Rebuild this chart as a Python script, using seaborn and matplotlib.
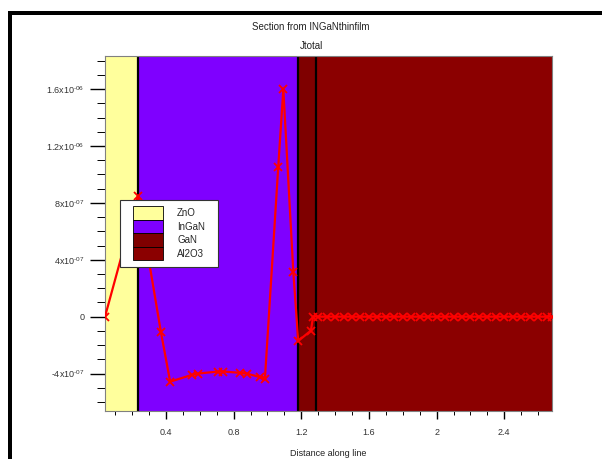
import matplotlib
matplotlib.use("Agg")
import matplotlib.pyplot as plt
import seaborn as sns
import numpy as np
import pandas as pd
from matplotlib.patches import Patch, Rectangle
from matplotlib.ticker import MultipleLocator, FixedLocator, FixedFormatter

# ---------------- data ----------------
layer_names = ["ZnO", "InGaN", "GaN", "Al2O3"]
layer_starts = [0.04, 0.235, 1.18, 1.286]
layer_ends = [0.235, 1.18, 1.286, 2.682]
layer_colors = ["#ffff9c", "#7f00ff", "#7f0000", "#8b0000"]

distance = [0.04, 0.235, 0.37, 0.425, 0.552, 0.59, 0.71, 0.74, 0.838, 0.877,
            0.956, 0.985, 1.064, 1.094, 1.153, 1.182, 1.257, 1.27,
            1.30, 1.35, 1.40, 1.45, 1.50, 1.55, 1.60, 1.65, 1.70, 1.75,
            1.80, 1.85, 1.90, 1.95, 2.00, 2.05, 2.10, 2.15, 2.20, 2.25,
            2.30, 2.35, 2.40, 2.45, 2.50, 2.55, 2.60, 2.65, 2.68]
jtotal = [0.0, 8.5e-7, -1.05e-7, -4.57e-7, -4.1e-7, -4.0e-7, -3.86e-7, -3.86e-7, -3.95e-7, -4.0e-7,
          -4.25e-7, -4.4e-7, 1.054e-6, 1.6e-6, 3.16e-7, -1.71e-7, -0.98e-7, 0.0,
          0.0, 0.0, 0.0, 0.0, 0.0, 0.0, 0.0, 0.0, 0.0, 0.0,
          0.0, 0.0, 0.0, 0.0, 0.0, 0.0, 0.0, 0.0, 0.0, 0.0,
          0.0, 0.0, 0.0, 0.0, 0.0, 0.0, 0.0, 0.0, 0.0]

HY = "\u2010"
ytick_values = [-4e-7, 0.0, 4e-7, 8e-7, 1.2e-6, 1.6e-6]
ytick_labels = ["-" + r"$\mathregular{4x10^{" + HY + r"07}}$", "0",
                r"$\mathregular{4x10^{" + HY + r"07}}$",
                r"$\mathregular{8x10^{" + HY + r"07}}$",
                r"$\mathregular{1.2x10^{" + HY + r"06}}$",
                r"$\mathregular{1.6x10^{" + HY + r"06}}$"]
xtick_values = [0.4, 0.8, 1.2, 1.6, 2.0, 2.4]
xtick_labels = ["0.4", "0.8", "1.2", "1.6", "2", "2.4"]

title_text = "Section from INGaNthinfilm"
subtitle_text = "Jtotal"
xlabel_text = "Distance along line"

# ---------------- style ----------------
sns.set_style("ticks")
plt.rcParams["font.family"] = ["Liberation Sans", "DejaVu Sans"]
plt.rcParams["mathtext.fontset"] = "custom"
plt.rcParams["mathtext.rm"] = "Liberation Sans"
plt.rcParams["mathtext.it"] = "Liberation Sans"
plt.rcParams["axes.unicode_minus"] = False

W, H = 602, 459
fig = plt.figure(figsize=(W / 100, H / 100), dpi=100)
fig.patch.set_facecolor("white")
ax = fig.add_axes([105 / W, 1 - 410.5 / H, (552 - 105) / W, (410.5 - 56.5) / H])

for name, s, e, c in zip(layer_names, layer_starts, layer_ends, layer_colors):
    ax.axvspan(s, e, facecolor=c, edgecolor="none", zorder=0)
for b in layer_starts[1:]:
    ax.axvline(b, color="black", lw=1.6, zorder=1)

df = pd.DataFrame({"distance": distance, "jtotal": jtotal})
sns.lineplot(data=df, x="distance", y="jtotal", ax=ax, color="#ff0000", lw=1.6,
             marker="x", markersize=6, markeredgewidth=1.3, markeredgecolor="#ff0000",
             sort=False, estimator=None, zorder=3)

ax.set_xlim(0.04, 2.682)
ax.set_ylim(-0.66e-6, 1.83e-6)

ax.xaxis.set_major_locator(FixedLocator(xtick_values))
ax.xaxis.set_major_formatter(FixedFormatter(xtick_labels))
ax.xaxis.set_minor_locator(MultipleLocator(0.1))
ax.yaxis.set_major_locator(FixedLocator(ytick_values))
ax.yaxis.set_major_formatter(FixedFormatter(ytick_labels))
ax.yaxis.set_minor_locator(MultipleLocator(1e-7))

ax.tick_params(axis="x", which="major", direction="out", length=5.5, width=1.0, labelsize=6.5, pad=7, color="black")
ax.tick_params(axis="x", which="minor", direction="out", length=3, width=0.7, color="black")
ax.tick_params(axis="y", which="major", direction="out", length=11, width=1.0, labelsize=6.5, pad=4, color="black")
ax.tick_params(axis="y", which="minor", direction="out", length=6, width=0.7, color="black")
for lab in ax.get_xticklabels() + ax.get_yticklabels():
    lab.set_color("#333333")

for sp in ax.spines.values():
    sp.set_visible(True)
    sp.set_color("#808080")
    sp.set_linewidth(0.8)

ax.set_xlabel("")
ax.set_ylabel("")

# legend: frame drawn as a box, entries placed inside
ax_left, ax_bottom, ax_w, ax_h = 105, 410.5, 447, 354
def ax_frac(px, py):
    return ((px - ax_left) / ax_w, (ax_bottom - py) / ax_h)

bx0, by0 = ax_frac(120, 267)
bx1, by1 = ax_frac(218, 200)
ax.add_patch(Rectangle((bx0, by0), bx1 - bx0, by1 - by0, transform=ax.transAxes,
                       facecolor="white", edgecolor="#333333", linewidth=0.8, zorder=5))

handles = [Patch(facecolor=c, edgecolor="black", linewidth=0.6) for c in layer_colors]
fs = 7
fs_px = fs * 100 / 72
row_px = 13.5
hh = (row_px / fs_px - 0.245) / 0.65
leg = ax.legend(handles, layer_names, loc="upper left", bbox_to_anchor=ax_frac(133, 206.5),
                borderaxespad=0, borderpad=0, fontsize=fs, frameon=False,
                handlelength=30 / fs_px, handleheight=hh,
                labelspacing=0.0, handletextpad=14 / fs_px)
leg.set_zorder(6)

fig.text(311 / W, 1 - 27 / H, title_text, ha="center", va="center", fontsize=7, color="#222222")
fig.text(311 / W, 1 - 46 / H, subtitle_text, ha="center", va="center", fontsize=7, color="#222222")
fig.text(328.5 / W, 1 - 453 / H, xlabel_text, ha="center", va="center", fontsize=6.5, color="#222222")

# window frame
fig.add_artist(Rectangle((8 / W, 1 - 14.5 / H), 1.0, 3.5 / H, transform=fig.transFigure,
                         facecolor="black", edgecolor="none"))
fig.add_artist(Rectangle((8 / W, 0), 3.5 / W, 1 - 11 / H, transform=fig.transFigure,
                         facecolor="black", edgecolor="none"))

fig.savefig("out.png", dpi=100)
